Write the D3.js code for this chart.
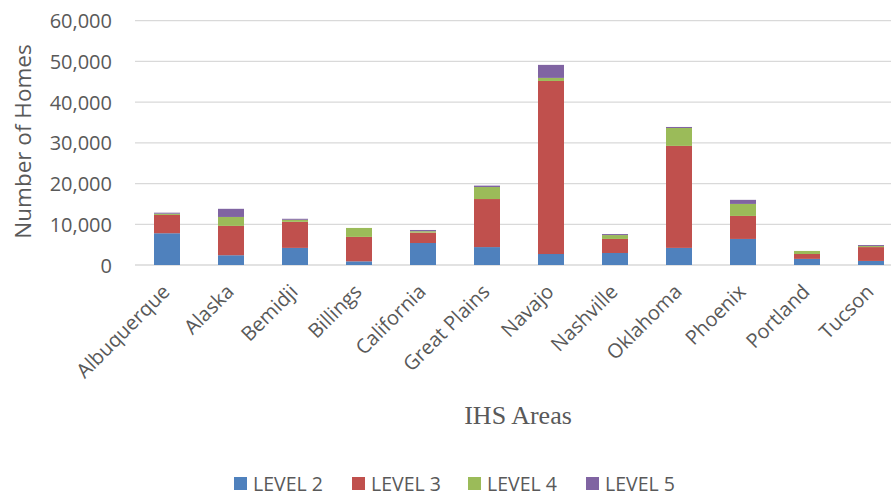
<!DOCTYPE html>
<html>
<head>
<meta charset="utf-8">
<script src="https://cdn.jsdelivr.net/npm/d3@7"></script>
<style>
  html, body { margin: 0; padding: 0; background: #fff; }
  svg { display: block; }
</style>
</head>
<body>
<svg id="chart" width="891" height="497"></svg>
<script>
const categories = ["Albuquerque","Alaska","Bemidji","Billings","California","Great Plains","Navajo","Nashville","Oklahoma","Phoenix","Portland","Tucson"];
const seriesNames = ["LEVEL 2","LEVEL 3","LEVEL 4","LEVEL 5"];
const level2 = [7800, 2400, 4200, 900, 5400, 4400, 2700, 2950, 4200, 6400, 1500, 1000];
const level3 = [4500, 7200, 6400, 6000, 2550, 11800, 42500, 3450, 25050, 5650, 1200, 3400];
const level4 = [300, 2200, 500, 2200, 350, 2950, 750, 950, 4400, 2950, 750, 250];
const level5 = [250, 2000, 250, 0, 300, 350, 3200, 250, 250, 1000, 0, 250];
const yTicks = [0, 10000, 20000, 30000, 40000, 50000, 60000];
const colors = ["#4F81BD", "#C0504D", "#9BBB59", "#8064A2"];
const seriesValues = [level2, level3, level4, level5];

const rows = categories.map((c, i) => {
  const r = { cat: c };
  seriesNames.forEach((s, j) => r[s] = seriesValues[j][i]);
  return r;
});

const svg = d3.select("#chart");
const x = d3.scaleBand().domain(categories).range([135, 903]).paddingInner(0.59375).paddingOuter(0.296875);
const y = d3.scaleLinear().domain([0, 60000]).range([265, 20.7]);

// gridlines
svg.append("g").selectAll("line").data(yTicks).join("line")
  .attr("x1", 135).attr("x2", 903)
  .attr("y1", d => y(d)).attr("y2", d => y(d))
  .attr("stroke", "#D9D9D9").attr("stroke-width", 1.3);

// bars
const stack = d3.stack().keys(seriesNames)(rows);
svg.append("g").selectAll("g").data(stack).join("g")
  .attr("fill", (d, i) => colors[i])
  .selectAll("rect").data(d => d).join("rect")
  .attr("x", d => x(d.data.cat))
  .attr("width", x.bandwidth())
  .attr("y", d => y(d[1]))
  .attr("height", d => Math.max(0, y(d[0]) - y(d[1])));

// y tick labels
const yAxis = d3.axisLeft(y).tickValues(yTicks).tickFormat(d3.format(",")).tickSize(0).tickPadding(0);
const yg = svg.append("g").attr("transform", "translate(112,0)").call(yAxis);
yg.select(".domain").remove();
yg.selectAll("text").attr("font-family", "'Open Sans', sans-serif").attr("font-size", 20).attr("fill", "#595959").attr("dy", "0.35em");

// x labels
const xAxis = d3.axisBottom(x).tickSize(0).tickPadding(0);
const xg = svg.append("g").call(xAxis);
xg.select(".domain").remove();
xg.selectAll(".tick").attr("transform", d => `translate(${x(d) + x.bandwidth() / 2 + 4},293)`);
xg.selectAll("text")
  .attr("font-family", "'Open Sans', sans-serif").attr("font-size", 20).attr("fill", "#595959")
  .attr("text-anchor", "end").attr("dy", 0).attr("y", 0)
  .attr("transform", "rotate(-45)");

// axis titles
svg.append("text")
  .attr("transform", "translate(31,141.5) rotate(-90)")
  .attr("text-anchor", "middle")
  .attr("font-family", "'Open Sans', sans-serif").attr("font-size", 22.5).attr("fill", "#595959")
  .text("Number of Homes");

svg.append("text")
  .attr("x", 518).attr("y", 424)
  .attr("text-anchor", "middle")
  .attr("font-family", "'Liberation Serif', 'Times New Roman', serif").attr("font-size", 26).attr("fill", "#595959")
  .text("IHS Areas");

// legend
const legendX = [234, 352, 468, 586];
const lg = svg.append("g").selectAll("g").data(seriesNames).join("g")
  .attr("transform", (d, i) => `translate(${legendX[i]},477)`);
lg.append("rect").attr("width", 13).attr("height", 13).attr("fill", (d, i) => colors[i]);
lg.append("text").attr("x", 19).attr("y", 13.5)
  .attr("font-family", "'Open Sans', sans-serif").attr("font-size", 19.5).attr("fill", "#595959")
  .text(d => d);
</script>
</body>
</html>
